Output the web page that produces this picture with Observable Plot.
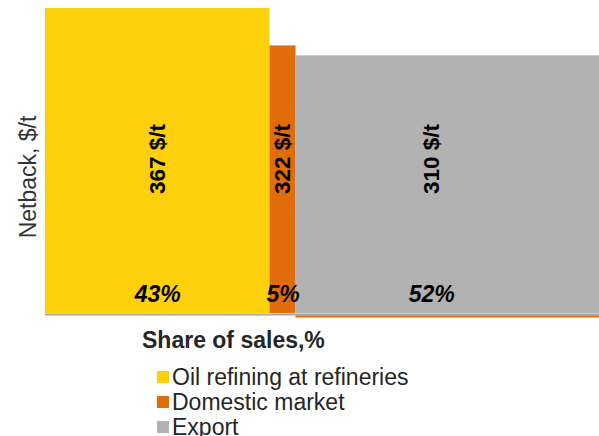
<!DOCTYPE html>
<html>
<head>
<meta charset="utf-8">
<script src="https://cdn.jsdelivr.net/npm/d3@7"></script>
<script src="https://cdn.jsdelivr.net/npm/@observablehq/plot@0.6"></script>
<style>
  body { margin: 0; background: #fff; font-family: "Liberation Sans", Arial, sans-serif; }
  #wrap { width: 599px; height: 436px; overflow: hidden; position: relative; }
  #xtitle { margin: 6px 0 0 142px; font-size: 23px; font-weight: bold; color: #262626; line-height: 25px; }
  #legend { margin: 12px 0 0 157px; font-size: 23px; color: #262626; line-height: 25px; }
  .item { display: flex; align-items: center; height: 25px; }
  .sw { width: 12px; height: 12px; margin-right: 3px; margin-top: -2px; flex: none; }
</style>
</head>
<body>
<div id="wrap">
  <div id="chart"></div>
  <div id="xtitle"></div>
  <div id="legend"></div>
</div>
<script>
const categories = ["Oil refining at refineries", "Domestic market", "Export"];
const shares = [43, 5, 52];           // share of sales, %
const netbacks = [367, 322, 310];     // netback, $/t
const colors = ["#FCD00A", "#E36C0A", "#B2B2B2"];
const yLabel = "Netback, $/t";
const xLabel = "Share of sales,%";

let acc = 0;
const data = categories.map((c, i) => {
  const d = {category: c, share: shares[i], value: netbacks[i], x1: acc, x2: acc + shares[i]};
  acc += shares[i];
  return d;
});
const first = data.slice(0, 2);
const last = data.slice(2);

const W = 599, ML = 45, MR = 32;

const chart = Plot.plot({
  width: W,
  height: 322,
  marginLeft: ML,
  marginRight: MR,
  marginTop: 8,
  marginBottom: 9,
  x: {domain: [0, 100], axis: null},
  y: {domain: [0, d3.max(netbacks)], axis: null},
  color: {domain: categories, range: colors},
  style: {fontFamily: "Liberation Sans, Arial, sans-serif", overflow: "visible"},
  marks: [
    Plot.rectY(first, {x1: "x1", x2: "x2", y1: 0, y2: "value", fill: "category"}),
    Plot.rectY(last, {x1: "x1", x2: "x2", y1: 0, y2: "value", fill: "category", insetRight: -MR}),
    Plot.ruleY([0], {stroke: "#A6A6A6", strokeWidth: 2, dy: 1, insetRight: -MR}),
    Plot.ruleY(last, {y: 0, x1: "x1", x2: "x2", stroke: "#E36C0A", strokeWidth: 2, dy: 3, insetRight: -MR}),
    Plot.text(data, {
      x: d => (d.x1 + d.x2) / 2, frameAnchor: "middle", dy: -2,
      text: d => `${d.value} $/t`, rotate: -90,
      fontSize: 22.5, fontWeight: "bold", fill: "#000"
    }),
    Plot.text(data, {
      x: d => (d.x1 + d.x2) / 2, y: 0, dy: -19,
      text: d => `${d.share}%`,
      fontSize: 23, fontWeight: "bold", fontStyle: "italic", fill: "#000"
    }),
    Plot.text([yLabel], {
      frameAnchor: "left", textAnchor: "middle", dx: -17, dy: 16, rotate: -90,
      text: d => d, fontSize: 23, fill: "#333"
    })
  ]
});
document.getElementById("chart").appendChild(chart);
document.getElementById("xtitle").textContent = xLabel;

const legend = document.getElementById("legend");
categories.forEach((c, i) => {
  const item = document.createElement("div");
  item.className = "item";
  const sw = document.createElement("span");
  sw.className = "sw";
  sw.style.background = colors[i];
  const t = document.createElement("span");
  t.textContent = c;
  item.appendChild(sw);
  item.appendChild(t);
  legend.appendChild(item);
});
</script>
</body>
</html>
